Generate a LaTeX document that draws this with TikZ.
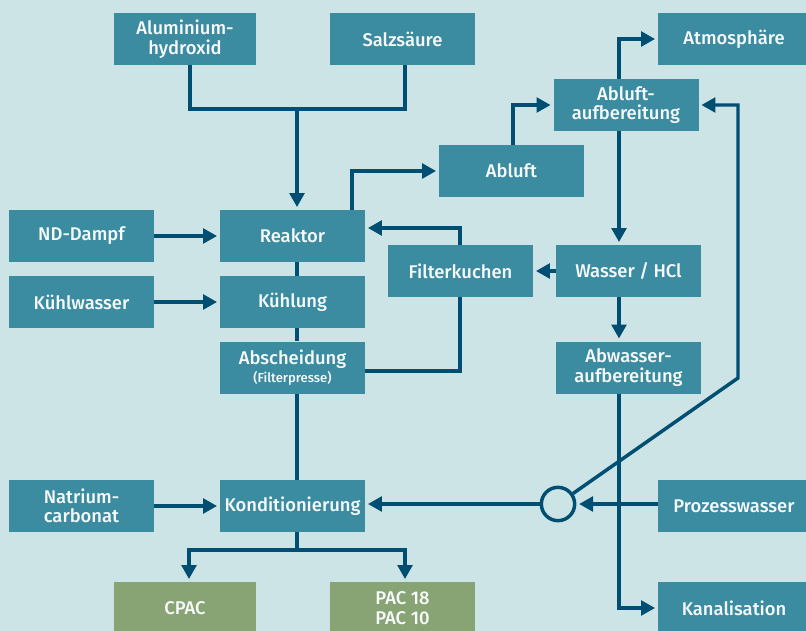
\documentclass[tikz,border=0pt]{standalone}
\usepackage{fontspec}
\setmainfont{Fira Sans}[UprightFont=* Medium]
\usetikzlibrary{arrows.meta,calc}
\definecolor{bgc}{HTML}{CDE4E7}
\definecolor{boxc}{HTML}{3B8BA1}
\definecolor{linec}{HTML}{004E72}
\definecolor{greenc}{HTML}{88A474}
\begin{document}
\begin{tikzpicture}[x=0.75pt,y=-0.75pt,
  box/.style={fill=boxc,text=white!96!boxc,minimum width=108.75pt,minimum height=39pt,inner sep=0pt,align=center,font=\fontsize{13.8}{14.6}\selectfont},
  wbox/.style={box,minimum width=114pt},
  gbox/.style={box,fill=greenc},
  ln/.style={draw=linec,line width=2.6pt,line join=miter},
  arr/.style={ln,-{Triangle[length=10.5pt,width=11pt]},shorten >=2pt}]
\fill[bgc] (0,0) rectangle (806,631);
\clip (0,0) rectangle (806,631);
% nodes
\node[box,minimum width=106.5pt] (alu) at (185,39) {Aluminium-\\hydroxid};
\node[box] (salz) at (402.5,39) {Salzsäure};
\node[wbox] (atmo) at (734,39) {Atmosphäre};
\node[box] (abla) at (626,105) {Abluft-\\aufbereitung};
\node[box] (abluft) at (511.5,171) {Abluft};
\node[box] (reaktor) at (292.5,236) {Reaktor};
\node[box] (nd) at (81.5,236) {ND-Dampf};
\node[box] (kuehlw) at (81.5,302) {Kühlwasser};
\node[box] (kuehlung) at (292.5,302) {Kühlung};
\node[box] (absch) at (292.5,367.5) {Abscheidung\\[-1pt]{\fontsize{9.8}{10.5}\selectfont(Filterpresse)}};
\node[box] (filterk) at (460.5,271) {Filterkuchen};
\node[box] (wasser) at (628.5,271) {Wasser / HCl};
\node[box] (abwasser) at (628.5,367.5) {Abwasser-\\aufbereitung};
\node[box] (natrium) at (81.5,506) {Natrium-\\carbonat};
\node[box] (kond) at (292.5,506) {Konditionierung};
\node[gbox,minimum width=106.5pt] (cpac) at (185,608) {CPAC};
\node[gbox] (pac) at (402.5,608) {PAC 18\\PAC 10};
\node[wbox] (prozess) at (734,506) {Prozesswasser};
\node[wbox] (kanal) at (734,608) {Kanalisation};
\node[circle,draw=linec,line width=2.6pt,fill=bgc,minimum size=25pt,inner sep=0pt] (c) at (558,504) {};
% helper coordinates
\coordinate (xa) at (190,0);
\coordinate (xs) at (405,0);
\coordinate (xt) at (297,0);
\coordinate (xr) at (352,0);
\coordinate (xab) at (513,0);
\coordinate (xaa) at (619,0);
\coordinate (xf) at (460,0);
\coordinate (xc) at (189,0);
\coordinate (j1) at (297,109);
\coordinate (yf) at (0,228);
\coordinate (ya) at (0,371);
\coordinate (yb) at (0,550);
\coordinate (d1) at (738,378);
% connectors
\draw[ln] (alu.south -| xa) -- (xa |- j1) -- (xs |- j1) -- (salz.south -| xs);
\draw[arr] (j1) -- (reaktor.north -| xt);
\draw[arr] (reaktor.north -| xr) |- (abluft.west);
\draw[arr] (abluft.north -| xab) |- (abla.west);
\draw[arr] (abla.north -| xaa) |- (atmo.west);
\draw[arr] (abla.south -| xaa) -- (wasser.north -| xaa);
\draw[arr] (wasser.west) -- (filterk.east);
\draw[arr] (wasser.south -| xaa) -- (abwasser.north -| xaa);
\draw[arr] (filterk.north -| xf) |- (reaktor.east |- yf);
\draw[ln] (absch.east |- ya) -| (filterk.south -| xf);
\draw[ln] (reaktor.south -| xt) -- (kuehlung.north -| xt);
\draw[ln] (kuehlung.south -| xt) -- (absch.north -| xt);
\draw[ln] (absch.south -| xt) -- (kond.north -| xt);
\draw[arr] (nd.east) -- (reaktor.west |- nd.east);
\draw[arr] (kuehlw.east) -- (kuehlung.west);
\draw[arr] (natrium.east) -- (kond.west);
\draw[ln] (kond.south -| xt) -- (xt |- yb);
\draw[arr] (xt |- yb) -| (cpac.north -| xc);
\draw[arr] (xt |- yb) -| (pac.north -| xs);
\draw[arr] (c.west) -- (kond.east |- c.west);
\draw[arr] (prozess.west |- c.east) -- (c.east);
\draw[arr] (c) -- (d1) |- (abla.east);
\draw[arr] (abwasser.south -| xaa) |- (kanal.west);
\end{tikzpicture}
\end{document}
